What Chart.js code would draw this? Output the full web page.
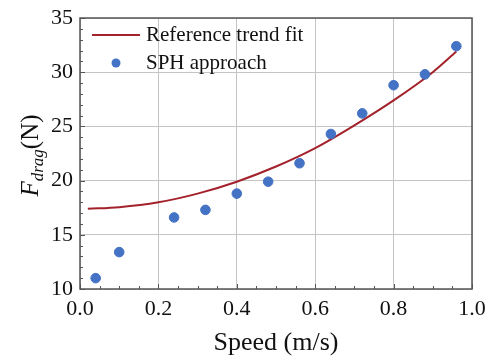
<!DOCTYPE html>
<html>
<head>
<meta charset="utf-8">
<script src="https://cdn.jsdelivr.net/npm/chart.js@4.4.1/dist/chart.umd.min.js"></script>
<style>
html,body{margin:0;padding:0;background:#fff;}
#wrap{width:500px;height:359px;position:relative;}
</style>
</head>
<body>
<div id="wrap"><canvas id="c" width="500" height="359"></canvas></div>
<script>
// Data
const sphSpeed = [0.04, 0.10, 0.24, 0.32, 0.40, 0.48, 0.56, 0.64, 0.72, 0.80, 0.88, 0.96];
const sphDrag  = [11.0, 13.4, 16.6, 17.3, 18.8, 19.9, 21.6, 24.3, 26.2, 28.8, 29.8, 32.4];
const fitSpeed = [0.02, 0.10, 0.20, 0.30, 0.40, 0.50, 0.60, 0.70, 0.80, 0.90, 0.96];
const fitDrag  = [17.4, 17.55, 18.0, 18.8, 19.9, 21.3, 23.0, 25.1, 27.4, 30.0, 31.9];
const xTicks = [0.0, 0.2, 0.4, 0.6, 0.8, 1.0];
const yTicks = [10, 15, 20, 25, 30, 35];
const seriesNames = ['Reference trend fit', 'SPH approach'];
const xTitle = 'Speed (m/s)';

const SERIF = '"Liberation Serif", "DejaVu Serif", serif';
const LINE_COLOR = '#a3222b';
const DOT_COLOR = '#4472c4';
const FRAME = '#555555';

const framePlugin = {
  id: 'frame',
  afterDatasetsDraw(chart) {
    const {ctx, chartArea: a, scales} = chart;
    ctx.save();
    ctx.strokeStyle = FRAME;
    ctx.lineWidth = 1;
    ctx.beginPath();
    for (let i = 0; i <= 20; i++) {
      const v = i * 0.05;
      const px = Math.round(scales.x.getPixelForValue(v)) + 0.5;
      const len = (i % 4 === 0) ? 5 : 3;
      ctx.moveTo(px, a.bottom);
      ctx.lineTo(px, a.bottom - len);
    }
    for (let v = 10; v <= 35; v++) {
      const py = Math.round(scales.y.getPixelForValue(v)) + 0.5;
      const len = (v % 5 === 0) ? 5 : 3;
      ctx.moveTo(a.left, py);
      ctx.lineTo(a.left + len, py);
    }
    ctx.stroke();
    ctx.lineWidth = 1.5;
    ctx.strokeStyle = FRAME;
    ctx.strokeRect(a.left, a.top, a.right - a.left, a.bottom - a.top);
    ctx.restore();
  },
  afterDraw(chart) {
    const {ctx, chartArea: a} = chart;
    ctx.save();
    // legend
    ctx.fillStyle = '#111';
    ctx.font = '21px ' + SERIF;
    ctx.textBaseline = 'middle';
    ctx.textAlign = 'left';
    ctx.strokeStyle = LINE_COLOR;
    ctx.lineWidth = 2;
    ctx.beginPath();
    ctx.moveTo(a.left + 12, a.top + 17);
    ctx.lineTo(a.left + 60, a.top + 17);
    ctx.stroke();
    ctx.fillText(seriesNames[0], a.left + 66, a.top + 17);
    ctx.fillStyle = DOT_COLOR;
    ctx.beginPath();
    ctx.arc(a.left + 36, a.top + 45, 4.5, 0, Math.PI * 2);
    ctx.fill();
    ctx.fillStyle = '#111';
    ctx.fillText(seriesNames[1], a.left + 66, a.top + 45);

    // y title: F_drag(N), rotated
    ctx.translate(30, (a.top + a.bottom) / 2 + 2);
    ctx.rotate(-Math.PI / 2);
    const p1 = 'F', p2 = 'drag', p3 = '(N)';
    const f1 = 'italic 25px ' + SERIF, f2 = 'italic 17px ' + SERIF, f3 = '25px ' + SERIF;
    ctx.font = f1; const w1 = ctx.measureText(p1).width;
    ctx.font = f2; const w2 = ctx.measureText(p2).width;
    ctx.font = f3; const w3 = ctx.measureText(p3).width;
    let x0 = -(w1 + w2 + w3) / 2;
    ctx.textBaseline = 'alphabetic';
    ctx.font = f1; ctx.fillText(p1, x0, 8); x0 += w1;
    ctx.font = f2; ctx.fillText(p2, x0, 13); x0 += w2;
    ctx.font = f3; ctx.fillText(p3, x0, 8);
    ctx.restore();
  }
};

new Chart(document.getElementById('c'), {
  type: 'scatter',
  data: {
    datasets: [
      {
        label: seriesNames[0],
        type: 'line',
        data: fitSpeed.map((x, i) => ({x, y: fitDrag[i]})),
        borderColor: LINE_COLOR,
        borderWidth: 2,
        pointRadius: 0,
        cubicInterpolationMode: 'monotone',
        fill: false,
        order: 2
      },
      {
        label: seriesNames[1],
        data: sphSpeed.map((x, i) => ({x, y: sphDrag[i]})),
        backgroundColor: DOT_COLOR,
        borderColor: DOT_COLOR,
        pointRadius: 4.8,
        order: 1
      }
    ]
  },
  options: {
    responsive: false,
    animation: false,
    devicePixelRatio: 1,
    layout: {padding: {left: 0, right: 28, top: 16, bottom: 0}},
    plugins: {legend: {display: false}, tooltip: {enabled: false}},
    scales: {
      x: {
        type: 'linear', min: 0, max: 1,
        afterBuildTicks(s) { s.ticks = xTicks.map(v => ({value: v})); },
        afterFit(s) { s.height = 70; },
        grid: {color: '#c4c4c4', lineWidth: 1, drawTicks: false},
        border: {display: false},
        ticks: {
          padding: 9,
          color: '#111',
          font: {family: SERIF, size: 22, lineHeight: 1},
          callback: v => v.toFixed(1)
        },
        title: {display: true, text: xTitle, color: '#111', font: {family: SERIF, size: 26}, padding: {top: 2, bottom: 0}}
      },
      y: {
        type: 'linear', min: 10, max: 35,
        afterBuildTicks(s) { s.ticks = yTicks.map(v => ({value: v})); },
        afterFit(s) { s.width = 80; },
        grid: {color: '#c4c4c4', lineWidth: 1, drawTicks: false},
        border: {display: false},
        ticks: {
          padding: 7,
          color: '#111',
          font: {family: SERIF, size: 22, lineHeight: 1},
          callback: v => String(v)
        }
      }
    }
  },
  plugins: [framePlugin]
});
</script>
</body>
</html>
